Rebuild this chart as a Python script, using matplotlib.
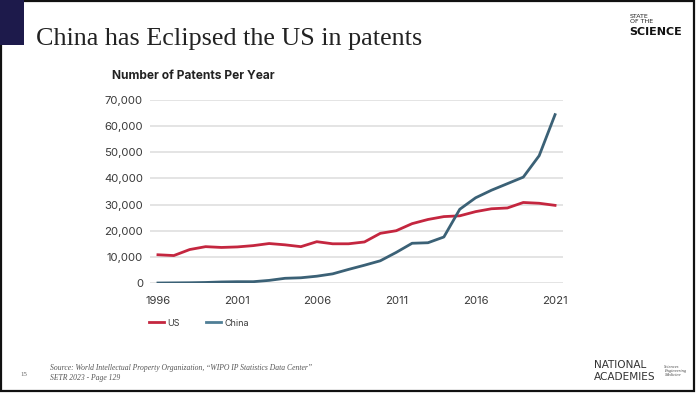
import matplotlib
matplotlib.use("Agg")
import matplotlib.pyplot as plt
from matplotlib.patches import Rectangle

years = list(range(1996, 2022))
us = [10800, 10500, 12800, 13900, 13600, 13800, 14300, 15100, 14600, 13900,
      15800, 15000, 15000, 15700, 19000, 20000, 22700, 24300, 25400, 25700,
      27300, 28400, 28700, 30800, 30500, 29700]
china = [0, 50, 100, 200, 400, 500, 500, 1000, 1800, 2000,
         2600, 3500, 5200, 6800, 8500, 11700, 15200, 15400, 17600, 28200,
         32600, 35500, 38000, 40500, 48700, 64400]
xticks = [1996, 2001, 2006, 2011, 2016, 2021]
yticks = [0, 10000, 20000, 30000, 40000, 50000, 60000, 70000]
series_names = ["US", "China"]

US_C = "#c4263f"
CN_C = "#3b6176"
TXT = "#3a3a3a"

W, H = 696, 393
fig = plt.figure(figsize=(W / 100, H / 100), dpi=100)
fig.patch.set_facecolor("white")

def fx(x):
    return x / W

def fy(y):
    return 1 - y / H

# slide border
fig.add_artist(Rectangle((fx(1), fy(391)), fx(694) - fx(1), fy(1) - fy(391),
                         transform=fig.transFigure, fill=False,
                         edgecolor="#111111", linewidth=1.6))
# navy block
fig.add_artist(Rectangle((0, fy(45)), fx(24), fy(0) - fy(45),
                         transform=fig.transFigure, facecolor="#1d1a4b",
                         edgecolor="none"))

fig.text(fx(36), fy(39), "China has Eclipsed the US in patents",
         family="Liberation Serif", fontsize=18.8, color="#222222",
         va="center", ha="left")

# logo
fig.text(fx(630), fy(19), "STATE\nOF THE", family="Liberation Sans Narrow",
         fontsize=4.5, color="#222222", va="center", ha="left", linespacing=0.9)
fig.text(fx(629), fy(32), "SCIENCE", family="DejaVu Sans", fontweight="bold",
         fontsize=8, color="#111111", va="center", ha="left")

# chart title
fig.text(fx(112), fy(76), "Number of Patents Per Year", family="Inter",
         fontweight="bold", fontsize=8.6, color="#222222", va="center", ha="left")

ax = fig.add_axes([fx(150), fy(283), fx(563) - fx(150), fy(100) - fy(283)])
ax.plot(years, us, color=US_C, linewidth=2.0, label=series_names[0],
        solid_joinstyle="round")
ax.plot(years, china, color=CN_C, linewidth=2.0, label=series_names[1],
        solid_joinstyle="round")
ax.set_xlim(1995.5, 2021.5)
ax.set_ylim(0, 70000)
ax.set_xticks(xticks)
ax.set_yticks(yticks)
ax.set_yticklabels([f"{v:,}" for v in yticks])
ax.grid(axis="y", color="#dcdcdc", linewidth=1.1)
ax.set_axisbelow(True)
for s in ax.spines.values():
    s.set_visible(False)
ax.tick_params(length=0, labelsize=8.2, labelcolor=TXT)
ax.tick_params(axis="y", pad=5)
ax.tick_params(axis="x", pad=9)
for lab in ax.get_xticklabels() + ax.get_yticklabels():
    lab.set_family("Inter")

leg = ax.legend(loc="upper left", bbox_to_anchor=(fx(143) - fx(150), -0.175),
                bbox_transform=ax.transAxes, ncol=2, frameon=False,
                fontsize=6.5, handlelength=1.6, handletextpad=0.4,
                columnspacing=2.9, borderaxespad=0)
for t in leg.get_texts():
    t.set_color(TXT)
    t.set_family("Inter")
leg.get_lines()[1].set_color("#4f7e96")

# footer
fig.text(fx(20), fy(375), "15", family="Liberation Serif", fontsize=5,
         color="#666666", va="center")
fig.text(fx(50), fy(368),
         "Source: World Intellectual Property Organization, \u201cWIPO IP Statistics Data Center\u201d",
         family="Liberation Serif", style="italic", fontsize=5.5,
         color="#555555", va="center")
fig.text(fx(50), fy(378), "SETR 2023 - Page 129", family="Liberation Serif",
         style="italic", fontsize=5.5, color="#555555", va="center")
fig.text(fx(594), fy(365), "NATIONAL", family="DejaVu Sans", fontsize=7.6,
         color="#333333", va="center")
fig.text(fx(594), fy(377), "ACADEMIES", family="DejaVu Sans", fontsize=7.6,
         color="#333333", va="center")
fig.text(fx(664), fy(371), "Sciences\nEngineering\nMedicine",
         family="Liberation Serif", style="italic", fontsize=3.2,
         color="#444444", va="center", linespacing=1.0)

fig.savefig("out.png", dpi=100)
